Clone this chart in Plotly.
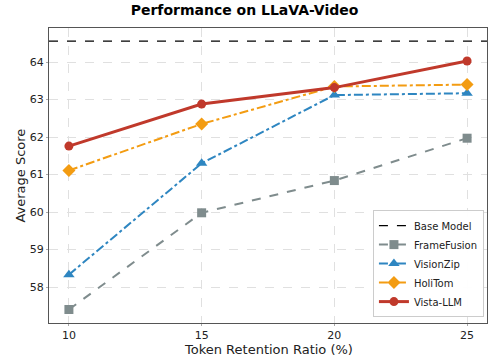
import plotly.graph_objects as go

ratios = [10, 15, 20, 25]
base_model = 64.56
framefusion = [57.40, 59.98, 60.84, 61.97]
visionzip = [58.33, 61.30, 63.12, 63.17]
holitom = [61.11, 62.35, 63.35, 63.40]
vista_llm = [61.76, 62.88, 63.32, 64.03]
x_ticks = [10, 15, 20, 25]
y_ticks = [58, 59, 60, 61, 62, 63, 64]

FONT = "DejaVu Sans"
fig = go.Figure()

fig.add_trace(go.Scatter(
    x=[9.25, 25.75], y=[base_model, base_model], mode="lines", name="Base Model",
    line=dict(color="black", width=1.3, dash="dash")))
fig.add_trace(go.Scatter(
    x=ratios, y=framefusion, mode="lines+markers", name="FrameFusion",
    line=dict(color="#7f8c8d", width=2, dash="dash"),
    marker=dict(symbol="square", size=9, color="#7f8c8d")))
fig.add_trace(go.Scatter(
    x=ratios, y=visionzip, mode="lines+markers", name="VisionZip",
    line=dict(color="#2e86c1", width=2, dash="dashdot"),
    marker=dict(symbol="triangle-up", size=10, color="#2e86c1")))
fig.add_trace(go.Scatter(
    x=ratios, y=holitom, mode="lines+markers", name="HoliTom",
    line=dict(color="#f39c12", width=2, dash="dashdot"),
    marker=dict(symbol="diamond", size=10, color="#f39c12")))
fig.add_trace(go.Scatter(
    x=ratios, y=vista_llm, mode="lines+markers", name="Vista-LLM",
    line=dict(color="#c0392b", width=3),
    marker=dict(symbol="circle", size=9, color="#c0392b")))

axis_common = dict(
    showline=True, linecolor="#555555", linewidth=1, mirror=True,
    showgrid=True, gridcolor="#e0e0e0", griddash="dash", gridwidth=1,
    ticks="outside", ticklen=2, tickcolor="#aaaaaa",
    tickfont=dict(family=FONT, size=11, color="#222222"),
    zeroline=False, automargin=False,
)

fig.update_layout(
    width=489, height=360,
    margin=dict(l=49, r=2, t=28, b=37, autoexpand=False),
    paper_bgcolor="white", plot_bgcolor="white",
    font=dict(family=FONT, color="#222222"),
    title=dict(text="<b>Performance on LLaVA-Video</b>", x=0.5, xanchor="center",
               y=0.985, yanchor="top", font=dict(family=FONT, size=14, color="black")),
    xaxis=dict(range=[9.25, 25.75], tickvals=x_ticks, **axis_common),
    yaxis=dict(range=[57.04, 64.91], tickvals=y_ticks, **axis_common),
    legend=dict(x=0.993, y=0.02, xanchor="right", yanchor="bottom",
                bgcolor="rgba(255,255,255,0.95)", bordercolor="#cccccc", borderwidth=1,
                font=dict(family=FONT, size=10, color="#222222"),
                tracegroupgap=0, itemwidth=30),
    showlegend=True,
    annotations=[
        dict(text="Token Retention Ratio (%)", xref="paper", yref="paper",
             x=0.5, y=-0.09, xanchor="center", yanchor="middle", showarrow=False,
             font=dict(family=FONT, size=13, color="#222222")),
        dict(text="Average Score", xref="paper", yref="paper", textangle=-90,
             x=-0.066, y=0.5, xanchor="center", yanchor="middle", showarrow=False,
             font=dict(family=FONT, size=13, color="#222222")),
    ],
)

fig.write_html("out.html", config={"displayModeBar": False},
               post_script="document.body.style.margin='0';")
